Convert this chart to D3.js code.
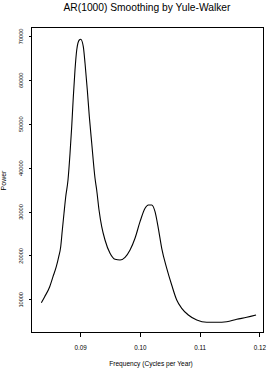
<!DOCTYPE html>
<html><head><meta charset="utf-8">
<script src="https://cdn.jsdelivr.net/npm/d3@7"></script>
<style>
html,body{margin:0;padding:0;background:#fff;}
svg{display:block;font-family:"Liberation Sans",Arial,Helvetica,sans-serif;}
</style></head>
<body>
<svg id="c" width="267" height="368"></svg>
<script>
const freq = [0.08353,0.08409,0.08493,0.08548,0.08603,0.08644,0.08677,0.08704,0.08732,0.08761,0.08799,0.08833,0.08861,0.08888,0.08916,0.08945,0.08988,0.09012,0.09055,0.09084,0.09122,0.09156,0.09196,0.09251,0.09279,0.09318,0.09363,0.09418,0.09502,0.09586,0.09669,0.09753,0.09837,0.09920,0.10004,0.10088,0.10143,0.10200,0.10255,0.10310,0.10367,0.10451,0.10534,0.10618,0.10702,0.10812,0.10953,0.11120,0.11287,0.11454,0.11622,0.11789,0.11945];
const power = [9226,10593,12871,15149,17427,19705,21983,25787,29591,33373,37177,43259,49319,56153,62235,66791,69069,69228,67543,63761,57679,51597,45537,37564,34899,30343,26539,23509,20479,19112,18953,19568,21231,23896,27678,30730,31482,31482,29956,26174,21618,17062,13258,9841,7950,6424,5285,4761,4761,4898,5444,5900,6424];
const xTicks = [0.09,0.10,0.11,0.12];
const xTickLabels = ["0.09","0.10","0.11","0.12"];
const yTicks = [10000,20000,30000,40000,50000,60000,70000];
const yTickLabels = ["10000","20000","30000","40000","50000","60000","70000"];
const title = "AR(1000) Smoothing by Yule-Walker";
const xLabel = "Frequency (Cycles per Year)";
const yLabel = "Power";

const W = 267, H = 368;
const m = {l:31, t:27, r:3, b:35};
const svg = d3.select("#c");
const x = d3.scaleLinear().domain([0.0818,0.12078]).range([m.l, W-m.r]);
const y = d3.scaleLinear().domain([2324,72030]).range([H-m.b, m.t]);

const x0 = m.l, x1 = W-m.r, y0 = m.t, y1 = H-m.b;
// frame
svg.append("rect").attr("x",x0+0.5).attr("y",y0+0.5)
  .attr("width",x1-x0-1).attr("height",y1-y0-1)
  .attr("fill","none").attr("stroke","#000").attr("stroke-width",1)
  .attr("shape-rendering","crispEdges");

// curve
const data = freq.map((f,i)=>({f, p:power[i]}));
const line = d3.line().x(d=>x(d.f)).y(d=>y(d.p)).curve(d3.curveMonotoneX);
svg.append("path").datum(data).attr("d", line)
  .attr("fill","none").attr("stroke","#000").attr("stroke-width",1.1);

// x axis
const gx = svg.append("g").attr("transform",`translate(0,${y1-0.5})`)
  .call(d3.axisBottom(x).tickValues(xTicks).tickSize(4.5).tickPadding(9)
    .tickFormat((d,i)=>xTickLabels[i]));
gx.select(".domain").remove();
gx.selectAll(".tick line").attr("stroke","#000").attr("shape-rendering","crispEdges");
gx.selectAll("text").attr("font-size","6.3px").attr("font-family","Liberation Sans, Arial, sans-serif").attr("fill","#000");

// y axis
const gy = svg.append("g").attr("transform",`translate(${x0+0.5},0)`)
  .call(d3.axisLeft(y).tickValues(yTicks).tickSize(3).tickFormat((d,i)=>yTickLabels[i]));
gy.select(".domain").remove();
gy.selectAll(".tick line").attr("stroke","#000").attr("shape-rendering","crispEdges");
gy.selectAll("text")
  .attr("font-size","5.6px").attr("font-family","Liberation Sans, Arial, sans-serif").attr("fill","#000")
  .attr("x",null).attr("dy",null)
  .attr("text-anchor","middle")
  .attr("transform","translate(-9,0) rotate(-90)");

// title & labels
svg.append("text").attr("x",147).attr("y",11).attr("text-anchor","middle")
  .attr("font-size","10.25px").attr("fill","#000").text(title);
svg.append("text").attr("x",151).attr("y",365.5).attr("text-anchor","middle")
  .attr("font-size","6.6px").attr("fill","#000").text(xLabel);
svg.append("text").attr("transform","translate(5.5,180.5) rotate(-90)").attr("text-anchor","middle")
  .attr("font-size","7px").attr("fill","#000").text(yLabel);
</script>
</body></html>
